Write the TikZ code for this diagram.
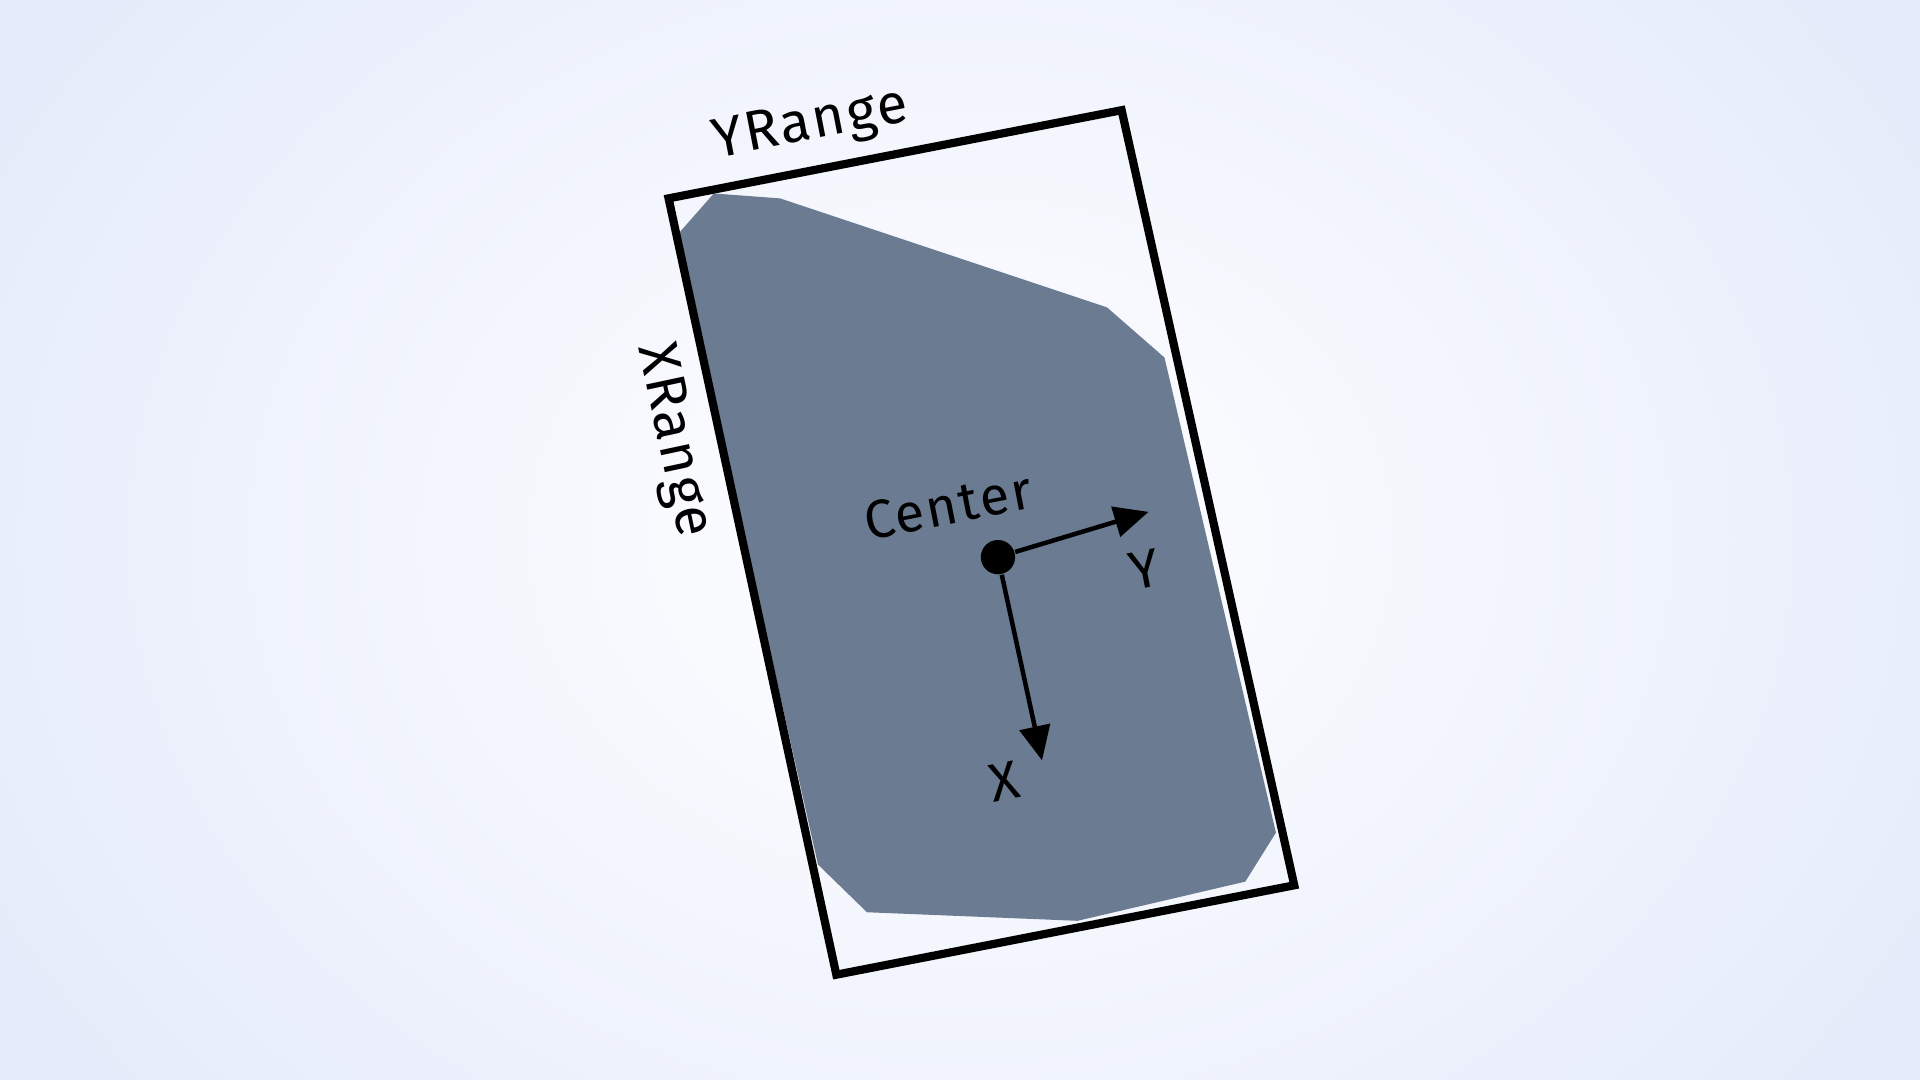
\documentclass[tikz,border=0pt]{standalone}
\usepackage{fontspec}
\setmainfont{Fira Sans}[LetterSpace=4]
\usepackage{xcolor}
\usetikzlibrary{arrows.meta, positioning, shapes.geometric}

\definecolor{bgblue}{HTML}{E5EBFB}
\definecolor{hullgray}{HTML}{6B7B91}

\begin{document}
\begin{tikzpicture}[x=0.01cm, y=-0.01cm]

		\tikzset{
			boxline/.style={draw=black, line width=1.9pt, line join=miter},
			axisarrow/.style={line width=1.05pt, -{Triangle[length=0.28cm, width=0.25cm]}},
			axislabel/.style={font=\fontsize{12.5}{14}\selectfont, inner sep=1pt, rotate=11},
			centerdot/.style={circle, fill=black, minimum size=0.28cm, inner sep=0pt}
		}

		% background
		\useasboundingbox (0,0) rectangle (1568,882);
		\begin{scope}
			\clip (0,0) rectangle (1568,882);
			\shade[inner color=white, outer color=bgblue] (-150,-300) rectangle (1718,1182);
		\end{scope}

		% hull
		\fill[hullgray] (553,192) -- (583,158) -- (637,162) -- (904,251) -- (951,292)
			-- (1042,680) -- (1017,720) -- (880,752) -- (708,745) -- (668,706) -- cycle;

		% bounding box
		\coordinate (tl) at (546,162);
		\coordinate (tr) at (916,90);
		\coordinate (br) at (1057,723);
		\coordinate (bl) at (683,796);
		\draw[boxline] (tl) -- (tr) -- (br) -- (bl) -- cycle;

		% labels of the ranges
		\node[axislabel, font=\fontsize{13}{15}\selectfont] (yrange) at (662,103) {YRange};
		\node[axislabel, rotate=-89, font=\fontsize{13}{15}\selectfont] (xrange) at (549,360) {XRange};

		% center and axes
		\node[centerdot] (center) at (815,455) {};
		\coordinate (ytip) at (938,418);
		\coordinate (xtip) at (851,621);
		\draw[axisarrow] (center) -- (ytip);
		\draw[axisarrow] (center) -- (xtip);

		\node[axislabel] (centerlabel) at (774,413) {Center};
		\node[axislabel] (ylabel) at (935,465) {Y};
		\node[axislabel] (xlabel) at (820,638) {X};

\end{tikzpicture}
\end{document}
